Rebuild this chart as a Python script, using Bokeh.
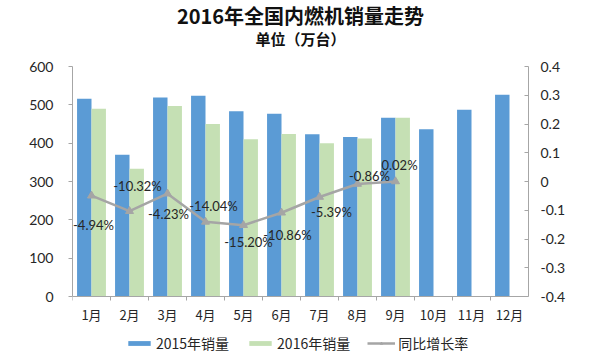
from bokeh.plotting import figure
from bokeh.models import (ColumnDataSource, FactorRange, Range1d, LinearAxis, FixedTicker,
                          Legend, LegendItem, Label, Span)
from bokeh.transform import dodge
from bokeh.core.properties import value
from bokeh.embed import file_html
from bokeh.resources import INLINE

# ---- data ----
months = ["1月", "2月", "3月", "4月", "5月", "6月", "7月", "8月", "9月", "10月", "11月", "12月"]
sales_2015 = [516, 370, 519, 524, 483, 477, 423, 416, 466, 436, 487, 526]
sales_2016 = [490, 333, 497, 450, 410, 424, 400, 412, 466]
growth = [-0.0494, -0.1032, -0.0423, -0.1404, -0.1520, -0.1086, -0.0539, -0.0086, 0.0002]
growth_labels = ["-4.94%", "-10.32%", "-4.23%", "-14.04%", "-15.20%", "-10.86%", "-5.39%", "-0.86%", "0.02%"]
left_ticks = [0, 100, 200, 300, 400, 500, 600]
right_ticks = [-0.4, -0.3, -0.2, -0.1, 0.0, 0.1, 0.2, 0.3, 0.4]
right_tick_labels = ["-0.4", "-0.3", "-0.2", "-0.1", "0", "0.1", "0.2", "0.3", "0.4"]
title_text = "2016年全国内燃机销量走势"
subtitle_text = "单位（万台）"

# label placement (screen px offsets from each point)
label_dx = [2, 8, 1, 8, 5, 6, 12, 12, 4]
label_dy = [29, -25, 20, -16, 17, 22, 15, -8, -16]

CJK = "Noto Sans CJK SC"
NUM = "Lato"
BLUE = "#5B9BD5"
GREEN = "#C5E0B4"
GRAY = "#A5A5A5"
AXIS = "#A6A6A6"
TXT = "#262626"

# ---- layout (px) ----
FIG_W, FIG_H = 612, 356
BORDER_L, BORDER_R = 72, 84
VAL_TOP, VAL_BOTTOM = 66, 296       # px from canvas top where the value axes run
LEFT_MIN, LEFT_MAX = 0, 600
RATE_MIN, RATE_MAX = -0.4, 0.4
val_h = VAL_BOTTOM - VAL_TOP
below_px = FIG_H - VAL_BOTTOM


def extend(lo, hi):
    per_px = (hi - lo) / val_h
    return lo - per_px * below_px, hi + per_px * VAL_TOP


left_lo, left_hi = extend(LEFT_MIN, LEFT_MAX)
rate_lo, rate_hi = extend(RATE_MIN, RATE_MAX)
px_left = (LEFT_MAX - LEFT_MIN) / val_h

p = figure(x_range=FactorRange(factors=months, range_padding=0),
           y_range=Range1d(left_lo, left_hi),
           width=FIG_W, height=FIG_H, output_backend="svg", toolbar_location=None,
           title=None, x_axis_location=None,
           min_border_left=BORDER_L, min_border_right=BORDER_R, min_border_top=0,
           min_border_bottom=0)

p.extra_y_ranges = {"rate": Range1d(rate_lo, rate_hi)}

p.xgrid.visible = False
p.ygrid.visible = False
p.outline_line_color = None

# left axis
ya = p.yaxis[0]
ya.ticker = FixedTicker(ticks=left_ticks)
ya.bounds = (LEFT_MIN, LEFT_MAX)
ya.axis_line_color = AXIS
ya.major_tick_line_color = AXIS
ya.major_tick_out = 4
ya.major_tick_in = 0
ya.minor_tick_line_color = None
ya.major_label_standoff = 15
ya.major_label_text_font = NUM
ya.major_label_text_font_size = "14px"
ya.major_label_text_color = TXT

# right axis
ra = LinearAxis(y_range_name="rate", ticker=FixedTicker(ticks=right_ticks),
                bounds=(RATE_MIN, RATE_MAX),
                major_label_overrides={t: l for t, l in zip(right_ticks, right_tick_labels)})
ra.axis_line_color = AXIS
ra.major_tick_line_color = AXIS
ra.major_tick_in = 4
ra.major_tick_out = 0
ra.minor_tick_line_color = None
ra.major_label_standoff = 12
ra.major_label_text_font = NUM
ra.major_label_text_font_size = "14px"
ra.major_label_text_color = TXT
p.add_layout(ra, "right")

# category axis (drawn in the frame): base line, boundary ticks, month labels
p.add_layout(Span(location=LEFT_MIN, dimension="width", line_color=AXIS, line_width=1))
src_m = ColumnDataSource(dict(month=months))
p.segment(x0=dodge("month", -0.5, range=p.x_range), y0=LEFT_MIN,
          x1=dodge("month", -0.5, range=p.x_range), y1=LEFT_MIN - 4 * px_left,
          source=src_m, line_color=AXIS, line_width=1)
p.text(x="month", y=LEFT_MIN, text="month", source=src_m, y_offset=18,
       text_font=value(CJK), text_font_size="13px", text_align="center",
       text_baseline="middle", text_color=TXT)

# bars
src15 = ColumnDataSource(dict(month=months, sales=sales_2015))
src16 = ColumnDataSource(dict(month=months[:len(sales_2016)], sales=sales_2016))
b15 = p.vbar(x=dodge("month", -0.19, range=p.x_range), top="sales", bottom=LEFT_MIN, width=0.38,
             source=src15, fill_color=BLUE, line_color=None)
b16 = p.vbar(x=dodge("month", 0.19, range=p.x_range), top="sales", bottom=LEFT_MIN, width=0.38,
             source=src16, fill_color=GREEN, line_color=None)

# growth line
srcr = ColumnDataSource(dict(month=months[:len(growth)], growth=growth, label=growth_labels,
                             dx=label_dx, dy=label_dy))
ln = p.line("month", "growth", source=srcr, y_range_name="rate", line_color=GRAY, line_width=2.5)
mk = p.scatter("month", "growth", source=srcr, y_range_name="rate", marker="triangle",
               size=8, fill_color=GRAY, line_color=GRAY)
p.text("month", "growth", text="label", x_offset="dx", y_offset="dy", source=srcr,
       y_range_name="rate", text_font=value(NUM), text_font_size="13px",
       text_align="center", text_baseline="middle", text_color=TXT)

# legend (screen units from the frame's bottom-left)
legend = Legend(items=[LegendItem(label="2015年销量", renderers=[b15]),
                       LegendItem(label="2016年销量", renderers=[b16]),
                       LegendItem(label="同比增长率", renderers=[ln, mk])],
                orientation="horizontal", location=(53, 3),
                glyph_width=28, glyph_height=6, label_height=16, label_standoff=3,
                spacing=17, padding=0, margin=0,
                label_text_font=CJK, label_text_font_size="14px", label_text_color=TXT,
                label_text_baseline="middle",
                border_line_color=None, background_fill_alpha=0)
p.add_layout(legend, "center")

# titles (screen units from the frame's bottom-left)
frame_w = FIG_W - BORDER_L - BORDER_R
p.add_layout(Label(x=frame_w / 2, y=FIG_H - 15, x_units="screen", y_units="screen",
                   text=title_text, text_align="center", text_baseline="middle",
                   text_font=CJK, text_font_size="20px", text_font_style="bold",
                   text_color="#111111"))
p.add_layout(Label(x=frame_w / 2, y=FIG_H - 38, x_units="screen", y_units="screen",
                   text=subtitle_text, text_align="center", text_baseline="middle",
                   text_font=CJK, text_font_size="15px", text_font_style="bold",
                   text_color="#111111"))

open("out.html", "w").write(file_html(p, INLINE))
